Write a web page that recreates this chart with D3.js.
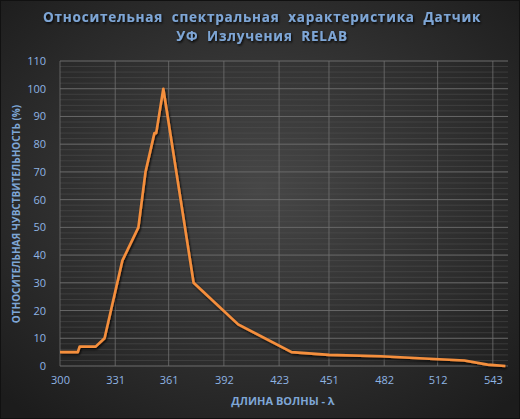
<!DOCTYPE html>
<html><head><meta charset="utf-8">
<script src="https://cdn.jsdelivr.net/npm/d3@7"></script>
<style>body{margin:0;background:#000}</style></head>
<body><svg id="c" width="520" height="419"></svg>
<script>
const wavelengths = [300,310,311,320,325,335,344,348,353,354,358,375,400,430,451,480,510,527,540,550];
const sensitivity = [5,5,7,7,10,38,50,70,84,84,100,30,15,5,4,3.5,2.5,2,0.5,0];
const xTicks = [300,331,361,392,423,451,482,512,543];
const yTicks = [0,10,20,30,40,50,60,70,80,90,100,110];
const titleLines = ["Относительная  спектральная  характеристика  Датчик","УФ  Излучения  RELAB"];
const xLabel = "ДЛИНА ВОЛНЫ - λ";
const yLabel = "ОТНОСИТЕЛЬНАЯ ЧУВСТВИТЕЛЬНОСТЬ (%)";

const svg = d3.select("#c");
const defs = svg.append("defs");
const g = defs.append("radialGradient").attr("id","bg").attr("cx","50%").attr("cy","45%").attr("r","70%");
g.append("stop").attr("offset","0%").attr("stop-color","#474747");
g.append("stop").attr("offset","100%").attr("stop-color","#1c1c1c");
const f = defs.append("filter").attr("id","sh").attr("x","-10%").attr("y","-10%").attr("width","120%").attr("height","120%");
f.append("feDropShadow").attr("dx",1).attr("dy",1.5).attr("stdDeviation",1.2).attr("flood-color","#000").attr("flood-opacity",0.9);
svg.append("rect").attr("width",520).attr("height",419).attr("fill","url(#bg)").attr("stroke","#111").attr("stroke-width",2);

const L=60,R=508,T=61,B=366;
const x = d3.scaleLinear().domain([300,551.5]).range([L,R]);
const y = d3.scaleLinear().domain([0,110]).range([B,T]);
const col="#8fb4e3";

svg.append("g").selectAll("line").data(d3.range(0,111,2)).join("line")
  .attr("x1",L).attr("x2",R).attr("y1",d=>y(d)).attr("y2",d=>y(d))
  .attr("stroke","#525252").attr("stroke-width",0.5);
svg.append("g").selectAll("line").data(yTicks).join("line")
  .attr("x1",L).attr("x2",R).attr("y1",d=>y(d)).attr("y2",d=>y(d))
  .attr("stroke","#707070").attr("stroke-width",0.8);
svg.append("g").selectAll("line").data(xTicks).join("line")
  .attr("x1",d=>x(d)).attr("x2",d=>x(d)).attr("y1",T).attr("y2",B)
  .attr("stroke","#707070").attr("stroke-width",0.8);

const xa = svg.append("g").attr("transform",`translate(0,${B})`)
  .call(d3.axisBottom(x).tickValues(xTicks).tickSize(0).tickPadding(10));
const ya = svg.append("g").attr("transform",`translate(${L-8},0)`)
  .call(d3.axisLeft(y).tickValues(yTicks).tickSize(0).tickPadding(6));
[xa,ya].forEach(a=>{a.select(".domain").remove();
  a.selectAll("text").attr("fill",col).attr("font-family","Open Sans, sans-serif").attr("font-size",11);});

svg.append("path").datum(wavelengths.map((w,i)=>[w,sensitivity[i]]))
  .attr("d",d3.line().x(d=>x(d[0])).y(d=>y(d[1])))
  .attr("fill","none").attr("stroke","#f58f3e").attr("stroke-width",2.6)
  .attr("stroke-linejoin","round").attr("filter","url(#sh)");

svg.append("g").selectAll("text").data(titleLines).join("text")
  .attr("x",262).attr("y",(d,i)=>22+i*19).attr("text-anchor","middle")
  .attr("fill","#7ea6d6").attr("font-family","Open Sans, sans-serif").attr("font-weight","bold")
  .attr("font-size",13.5).attr("letter-spacing",0.8).attr("filter","url(#sh)")
  .style("white-space","pre").text(d=>d);
svg.append("text").attr("x",283).attr("y",405).attr("text-anchor","middle")
  .attr("fill","#7ea6d6").attr("font-family","Open Sans, sans-serif").attr("font-weight","bold").attr("font-size",11).text(xLabel);
svg.append("text").attr("transform","translate(20,214) rotate(-90)").attr("text-anchor","middle")
  .attr("fill","#7ea6d6").attr("font-family","Open Sans, sans-serif").attr("font-weight","bold").attr("font-size",10).text(yLabel);
</script></body></html>
